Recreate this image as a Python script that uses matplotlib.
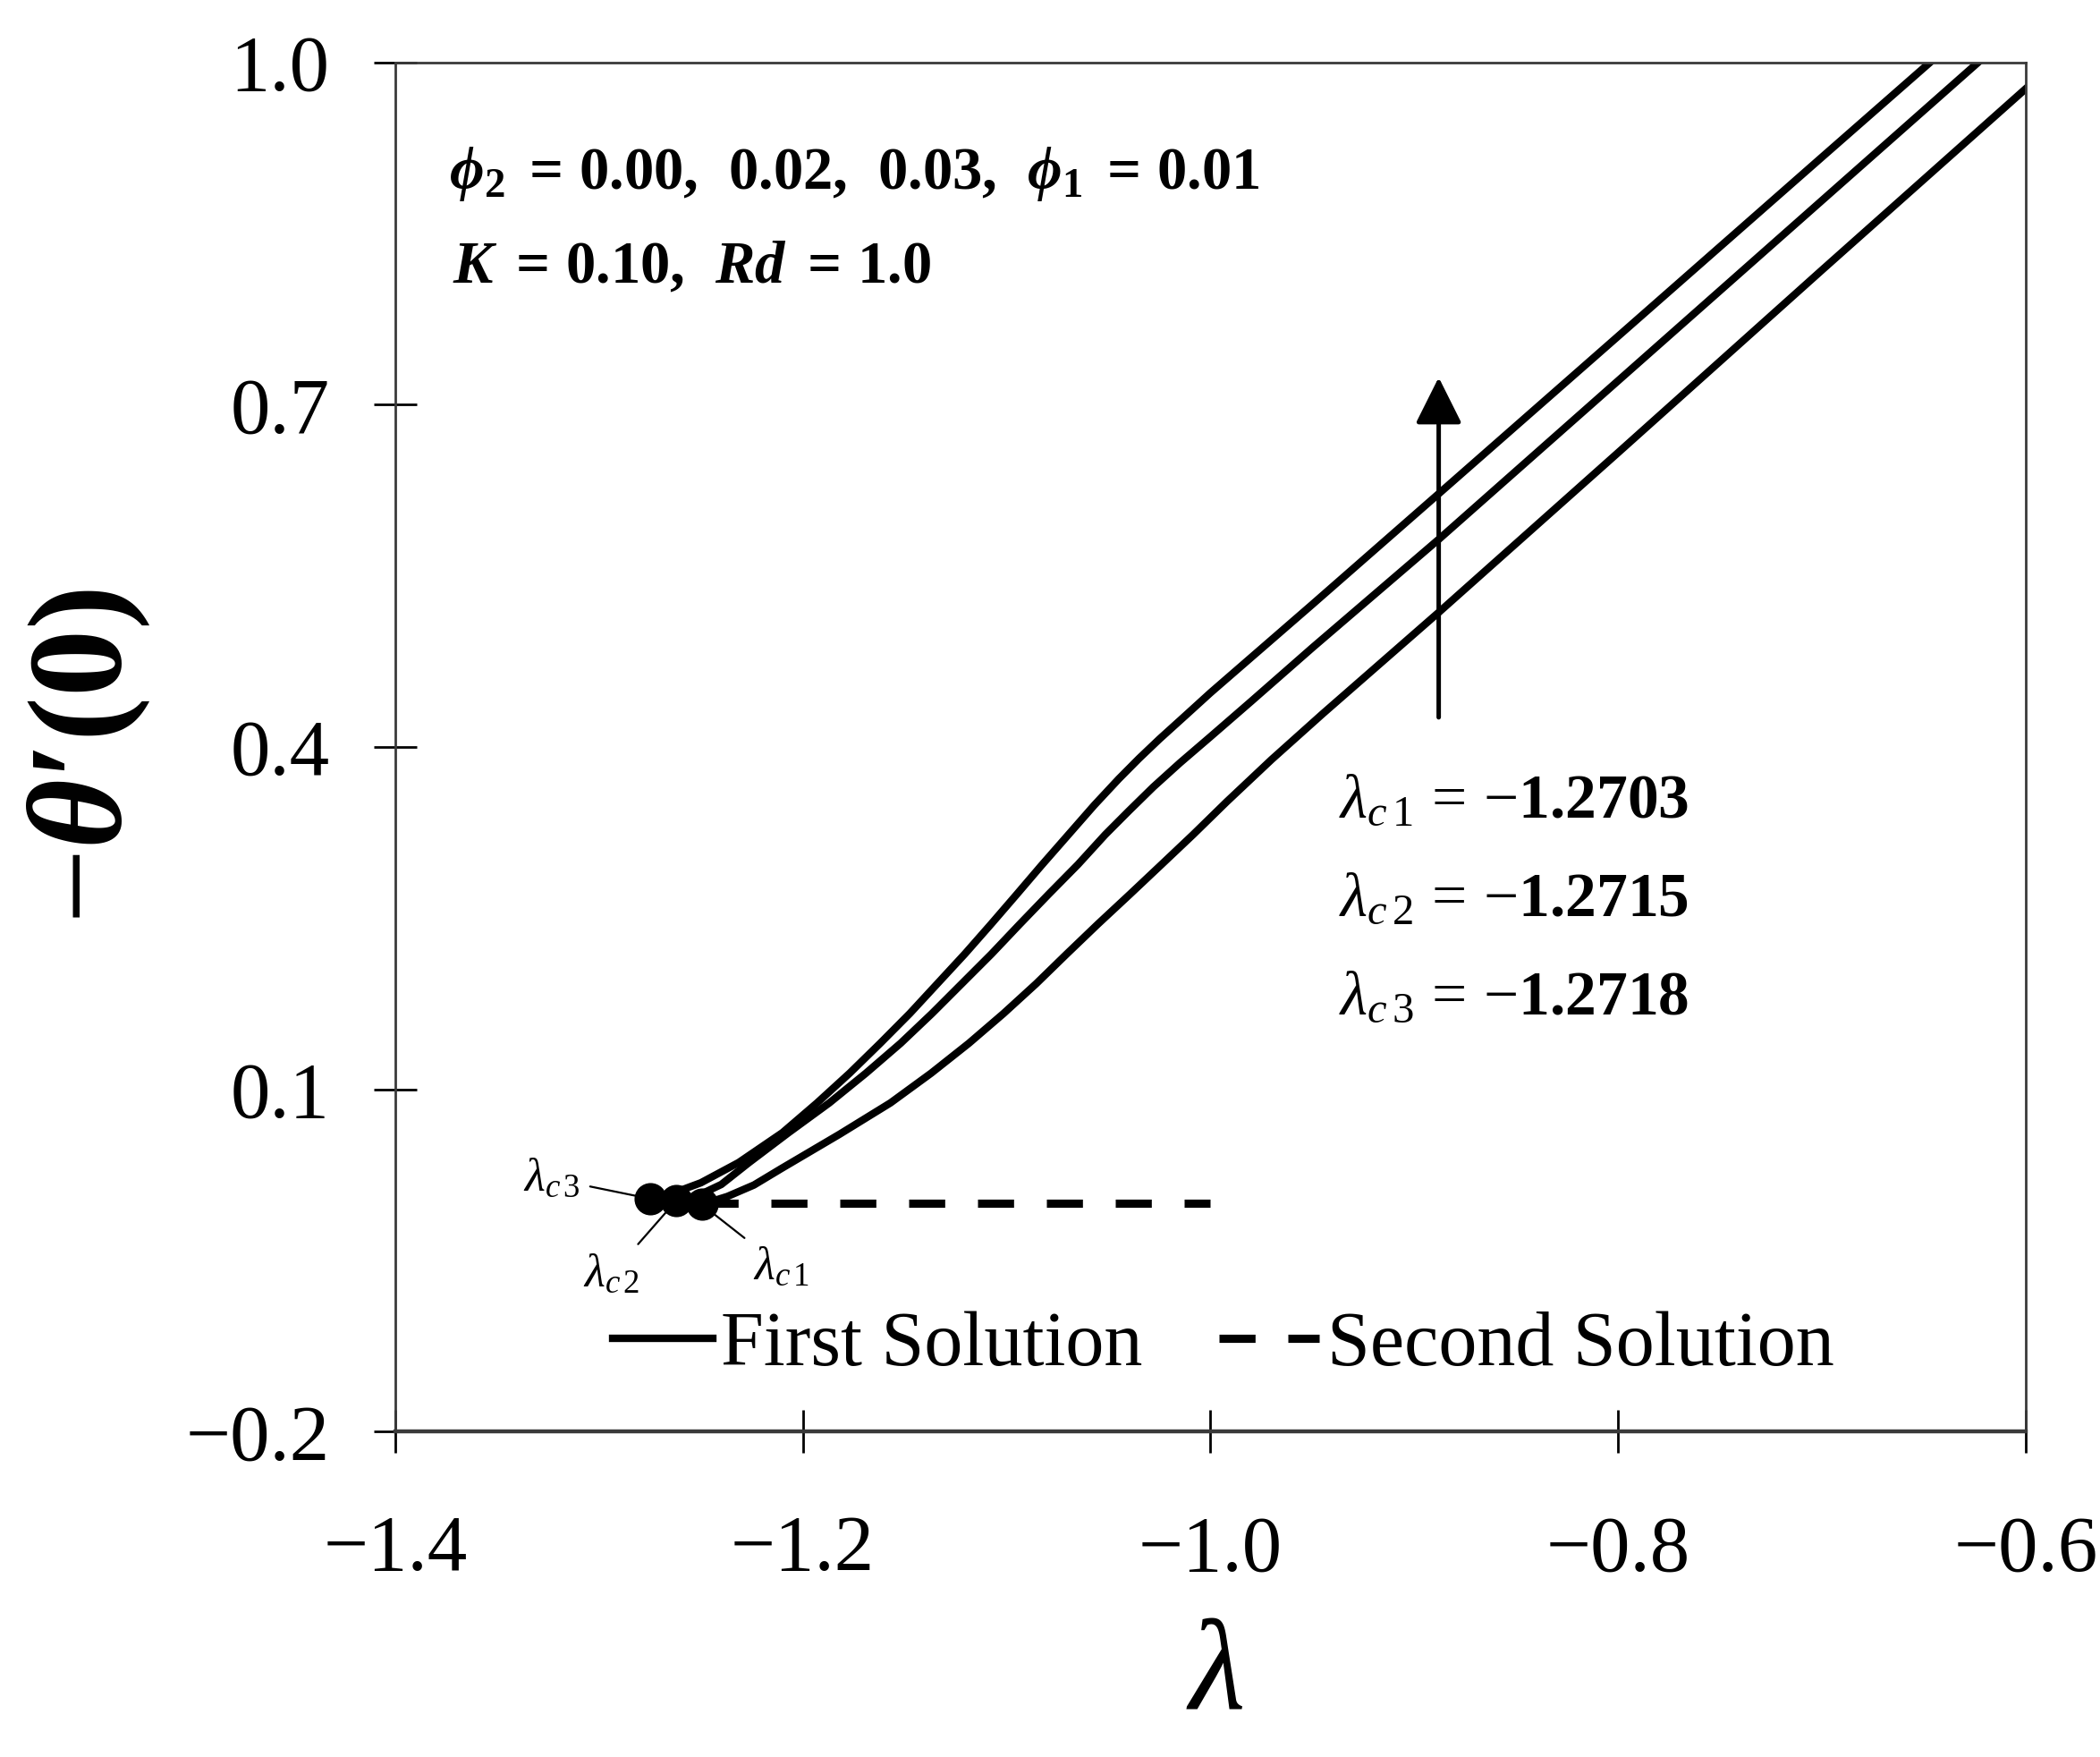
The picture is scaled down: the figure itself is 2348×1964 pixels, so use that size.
import matplotlib
matplotlib.use('Agg')
import matplotlib.pyplot as plt

plt.rcParams['font.family'] = ['Liberation Serif', 'DejaVu Serif']
plt.rcParams['mathtext.fontset'] = 'custom'
plt.rcParams['mathtext.rm'] = 'Liberation Serif'
plt.rcParams['mathtext.it'] = 'Liberation Serif:italic'
plt.rcParams['mathtext.bf'] = 'Liberation Serif:bold'
plt.rcParams['mathtext.bfit'] = 'Liberation Serif:italic:bold'

# ---------------- data ----------------
# phi2 = 0.03 (upper first-solution branch)
lam_top = [-1.275, -1.262, -1.250, -1.2315, -1.210, -1.193, -1.177, -1.162, -1.1475,
           -1.134, -1.1205, -1.1076, -1.095, -1.083, -1.070, -1.057, -1.045, -1.035,
           -1.025, -1.012, -1.000, -0.950, -0.888, -0.800, -0.700, -0.647]
th_top = [0.004, 0.010, 0.018, 0.0357, 0.0619, 0.088, 0.1141, 0.1403, 0.1664,
          0.1925, 0.2186, 0.2448, 0.2709, 0.2960, 0.3225, 0.349, 0.372, 0.390,
          0.407, 0.428, 0.4475, 0.525, 0.622, 0.760, 0.917, 1.000]
# phi2 = 0.02 (middle branch)
lam_mid = [-1.262, -1.250, -1.240, -1.2264, -1.207, -1.187, -1.169, -1.152, -1.1366,
           -1.122, -1.1074, -1.0935, -1.0794, -1.065, -1.0516, -1.040, -1.028, -1.015,
           -1.000, -0.980, -0.950, -0.888, -0.800, -0.700, -0.6234]
th_mid = [0.002, 0.008, 0.0165, 0.0357, 0.0619, 0.088, 0.1141, 0.1403, 0.1664,
          0.1925, 0.2186, 0.2448, 0.2709, 0.2970, 0.3232, 0.344, 0.365, 0.386,
          0.409, 0.440, 0.487, 0.582, 0.721, 0.879, 1.000]
# phi2 = 0.00 (lower branch)
lam_bot = [-1.2496, -1.237, -1.224, -1.2105, -1.182, -1.157, -1.137, -1.1185, -1.1015,
           -1.0855, -1.0705, -1.0552, -1.0395, -1.024, -1.0085, -0.992, -0.970, -0.945,
           -0.888, -0.800, -0.700, -0.600]
th_bot = [-0.001, 0.006, 0.016, 0.0305, 0.0605, 0.088, 0.1141, 0.1403, 0.1664,
          0.1925, 0.2186, 0.2448, 0.2709, 0.2970, 0.3232, 0.352, 0.389, 0.429,
          0.518, 0.658, 0.818, 0.977]

# second solution (dashed)
lam_second = [-1.2496, -1.000]
th_second = [0.000, 0.000]

# critical points (dots)
lam_crit = [-1.2496, -1.2623, -1.2750]
th_crit = [-0.001, 0.002, 0.004]
crit_names = ['c\\,1', 'c\\,2', 'c\\,3']
crit_values = ['1.2703', '1.2715', '1.2718']

xticks = [-1.4, -1.2, -1.0, -0.8, -0.6]
xtick_labels = ['\u22121.4', '\u22121.2', '\u22121.0', '\u22120.8', '\u22120.6']
yticks = [-0.2, 0.1, 0.4, 0.7, 1.0]
ytick_labels = ['\u22120.2', '0.1', '0.4', '0.7', '1.0']

# ---------------- figure ----------------
fig = plt.figure(figsize=(11.74, 9.82), dpi=200)
ax = fig.add_axes([0.1882, 0.1853, 0.7764, 0.7791])

ax.plot(lam_top, th_top, color='black', lw=3.0, label='First Solution')
ax.plot(lam_mid, th_mid, color='black', lw=3.0)
ax.plot(lam_bot, th_bot, color='black', lw=3.0)
ax.plot(lam_second, th_second, color='black', lw=3.3, dashes=(4.4, 4.0),
        label='Second Solution')
ax.plot(lam_crit, th_crit, 'o', color='black', ms=12, zorder=5, clip_on=False)

ax.set_xlim(-1.4, -0.6)
ax.set_ylim(-0.2, 1.0)
ax.set_xticks(xticks)
ax.set_xticklabels(xtick_labels)
ax.set_yticks(yticks)
ax.set_yticklabels(ytick_labels)
ax.tick_params(axis='both', direction='inout', length=17, width=1.0,
               labelsize=32, colors='black')
ax.tick_params(axis='x', pad=25)
ax.tick_params(axis='y', pad=18)
for side in ['left', 'bottom', 'top', 'right']:
    ax.spines[side].set_color('#3a3a3a')
    ax.spines[side].set_linewidth(1.0)
ax.spines['bottom'].set_linewidth(1.6)

ax.set_xlabel(r'$\lambda$', fontsize=52, va='center')
ax.xaxis.set_label_coords(0.5025, -0.180)
ax.set_ylabel(r"$-\mathbfit{\theta}\mathbf{\prime}\mathbf{(0)}$", fontsize=54,
              va='center')
ax.yaxis.set_label_coords(-0.188, 0.493)

# parameter text
ax.text(-1.3737, 0.902,
        r'$\mathbfit{\phi}_{\mathbf{2}}\mathbf{\ =\,0.00,\ \,0.02,\ \,0.03,\ \,}'
        r'\mathbfit{\phi}_{\mathbf{1}}\mathbf{\ =\,0.01}$',
        fontsize=24, va='center', ha='left')
ax.text(-1.3717, 0.820,
        r'$\mathbfit{K}\mathbf{\ =\,0.10,\ \,}\mathbfit{Rd}\mathbf{\ =\,1.0}$',
        fontsize=24, va='center', ha='left')

# critical values list
for i, (nm, val) in enumerate(zip(crit_names, crit_values)):
    ax.text(-0.937, 0.352 - i * 0.0865,
            r'$\lambda_{' + nm + r'}\,=\,{-}\mathbf{' + val + '}$',
            fontsize=25, va='center', ha='left')

# arrow (increasing phi2)
ax.annotate('', xy=(-0.888, 0.724), xytext=(-0.888, 0.426),
            arrowprops=dict(arrowstyle='-|>,head_length=0.8,head_width=0.4',
                            lw=1.8, color='black', mutation_scale=20,
                            shrinkA=0, shrinkB=0))

# leader labels for critical points
label_pos = [(-1.2104, -0.056), (-1.2938, -0.0623), (-1.3232, 0.0216)]
for (xd, yd), nm, (tx, ty) in zip(zip(lam_crit, th_crit), crit_names, label_pos):
    ax.annotate(r'$\lambda_{' + nm + '}$', xy=(xd, yd), xytext=(tx, ty), fontsize=19,
                ha='center', va='center',
                arrowprops=dict(arrowstyle='-', lw=0.8, color='black',
                                shrinkA=2, shrinkB=6))

leg = ax.legend(loc='center', bbox_to_anchor=(0.508, 0.062), ncol=2, frameon=False,
                fontsize=31, handlelength=1.3, handletextpad=0.1, columnspacing=1.0,
                borderpad=0)

fig.savefig('out.png', dpi=200)
